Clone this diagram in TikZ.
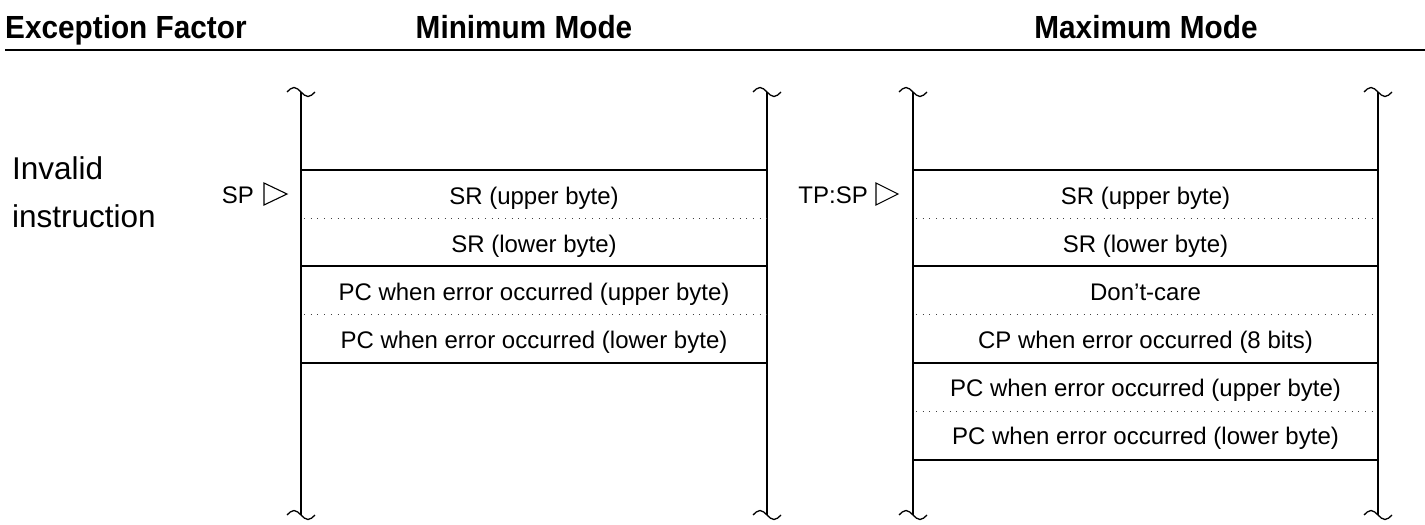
\documentclass[tikz,border=0pt]{standalone}
\usepackage{fontspec}
\setmainfont{Liberation Sans}
\newcommand{\hdrtxt}[1]{\scalebox{0.93}[1]{\fontsize{32}{34}\selectfont\bfseries #1}}
\begin{document}
\begin{tikzpicture}[x=1pt,y=-1pt,
  hdr/.style={inner sep=0pt},
  cell/.style={font=\fontsize{24}{26}\selectfont, inner sep=0pt, text height=17pt, text depth=0pt},
  lbl/.style={font=\fontsize{31.5}{34}\selectfont, inner sep=0pt, anchor=base west},
  ptrlbl/.style={font=\fontsize{24}{26}\selectfont, inner sep=0pt, anchor=base east},
  wall/.style={line width=1.8pt},
  solidrow/.style={line width=1.4pt},
  dotrow/.style={line width=1pt, dash pattern=on 1pt off 5.7pt, black!75},
  brk/.style={line width=1.3pt},
  ptr/.style={line width=1.1pt, line join=miter}]
\useasboundingbox (0,0) rectangle (1425,525);

% header
\node[hdr, anchor=base west] (hfac) at (5,38) {\hdrtxt{Exception Factor}};
\node[hdr, anchor=base] (hmin) at (524,38) {\hdrtxt{Minimum Mode}};
\node[hdr, anchor=base] (hmax) at (1146,38) {\hdrtxt{Maximum Mode}};
\draw[line width=2pt] (5,50) -- (1425,50);

% factor label
\node[lbl] (inv1) at (12,179) {Invalid};
\node[lbl] (inv2) at (12,227) {instruction};

% columns: walls with break marks
\foreach \x/\n in {301/la,767/lb,913/ra,1378/rb}{
  \coordinate (\n top) at (\x,92);
  \coordinate (\n bot) at (\x,515);
  \draw[wall] (\n top) -- (\n bot);
  \draw[brk] (\x-14,92) sin (\x-7,87.5) cos (\x,92) sin (\x+7,96.5) cos (\x+14,92);
  \draw[brk] (\x-14,515) sin (\x-7,510.5) cos (\x,515) sin (\x+7,519.5) cos (\x+14,515);
}

% minimum mode rows
\foreach \y in {170,266,363}{ \draw[solidrow] (301,\y) -- (767,\y); }
\foreach \y in {218,314}{ \draw[dotrow] (304,\y) -- (767,\y); }
\node[cell] (m1) at (534,195.5) {SR (upper byte)};
\node[cell] (m2) at (534,243.5) {SR (lower byte)};
\node[cell] (m3) at (534,291.5) {PC when error occurred (upper byte)};
\node[cell] (m4) at (534,339.5) {PC when error occurred (lower byte)};

% maximum mode rows
\foreach \y in {170,266,363,460}{ \draw[solidrow] (913,\y) -- (1378,\y); }
\foreach \y in {218,314,411}{ \draw[dotrow] (916,\y) -- (1378,\y); }
\node[cell] (x1) at (1145.5,195.5) {SR (upper byte)};
\node[cell] (x2) at (1145.5,243.5) {SR (lower byte)};
\node[cell] (x3) at (1145.5,291.5) {Don’t-care};
\node[cell] (x4) at (1145.5,339.5) {CP when error occurred (8 bits)};
\node[cell] (x5) at (1145.5,388) {PC when error occurred (upper byte)};
\node[cell] (x6) at (1145.5,436) {PC when error occurred (lower byte)};

% stack pointers
\node[ptrlbl] (sp) at (254,203) {SP};
\draw[ptr] (264,183) -- (264,205) -- (287,194) -- cycle;
\node[ptrlbl] (tpsp) at (868,203) {TP:SP};
\draw[ptr] (876,183) -- (876,205) -- (898,194) -- cycle;
\end{tikzpicture}
\end{document}
